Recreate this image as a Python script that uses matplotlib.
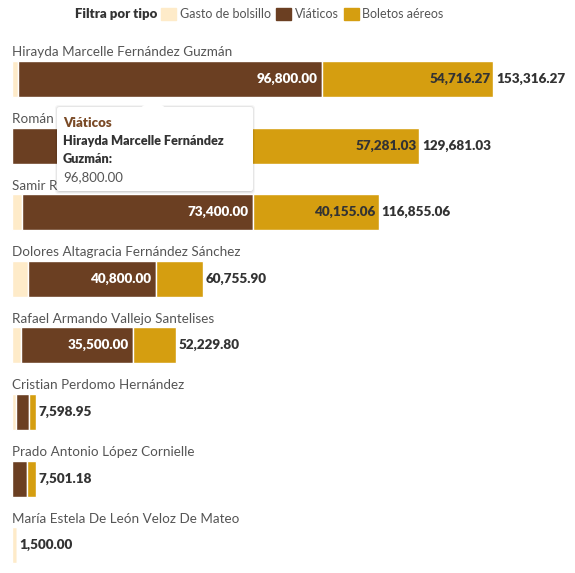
import numpy as np
import matplotlib.pyplot as plt
import matplotlib as mpl
from matplotlib.patches import FancyBboxPatch, Polygon, Patch

CREAM, BROWN, GOLD = '#FEEBC9', '#6B3F22', '#D59E10'
DARK, MID = '#333333', '#555555'

mpl.rcParams['font.family'] = ['Lato', 'DejaVu Sans']

# Data
names = ['Hirayda Marcelle Fernández Guzmán', 'Román A', 'Samir Ra',
         'Dolores Altagracia Fernández Sánchez', 'Rafael Armando Vallejo Santelises',
         'Cristian Perdomo Hernández', 'Prado Antonio López Cornielle',
         'María Estela De León Veloz De Mateo']
gasto = [1800, 0, 3300, 5000, 3000, 1300, 0, 1500]
viaticos = [96800, 72400, 73400, 40800, 35500, 4000, 4800, 0]
boletos = [54716.27, 57281.03, 40155.06, 14955.90, 13729.80, 2298.95, 2701.18, 0]
series = ['Gasto de bolsillo', 'Viáticos', 'Boletos aéreos']

gasto = np.array(gasto)
viaticos = np.array(viaticos)
boletos = np.array(boletos)
total = gasto + viaticos + boletos

W, H = 575, 573
fig = plt.figure(figsize=(W / 100, H / 100), dpi=100)
ax = fig.add_axes([12 / W, 0, 1 - 12 / W, 1])
ax.axis('off')

px_per_k = 3.14
ax.set_xlim(0, (W - 12) / px_per_k * 1000)
row_px, first_px = 66.6, 79
ax.set_ylim((H - first_px) / row_px, -first_px / row_px)

y = np.arange(len(names))
h = 0.54
kw = dict(height=h, edgecolor='white', linewidth=1)
b1 = ax.barh(y, gasto, color=CREAM, **kw)
b2 = ax.barh(y, viaticos, left=gasto, color=BROWN, **kw)
b3 = ax.barh(y, boletos, left=gasto + viaticos, color=GOLD, **kw)

# names above bars
for i, n in enumerate(names):
    ax.text(0, i - 0.40, n, fontsize=9.7, color=MID, va='center', ha='left')

# segment labels
for i in range(len(names)):
    if viaticos[i] > 30000:
        ax.annotate(f'{viaticos[i]:,.2f}', (gasto[i] + viaticos[i], i), xytext=(-3, 0),
                    textcoords='offset points', ha='right', va='center',
                    color='white', fontsize=9.7, fontweight='heavy')
    if boletos[i] > 30000:
        ax.annotate(f'{boletos[i]:,.2f}', (total[i], i), xytext=(-2, 0),
                    textcoords='offset points', ha='right', va='center',
                    color=DARK, fontsize=9.7, fontweight='heavy')
    ax.annotate(f'{total[i]:,.2f}', (total[i], i), xytext=(2, 0),
                textcoords='offset points', ha='left', va='center',
                color=DARK, fontsize=9.7, fontweight='heavy')

# legend
fig.text(75 / W, 1 - 14 / H, 'Filtra por tipo', fontsize=9.5, fontweight='heavy',
         color=DARK, va='center', ha='left')
handles = [Patch(color=c) for c in (CREAM, BROWN, GOLD)]
fig.legend(handles, series, loc='center left', bbox_to_anchor=(155 / W, 1 - 14 / H),
           ncol=3, frameon=False, fontsize=9.0, handlelength=1.2, handleheight=1.2,
           handletextpad=0.3, columnspacing=0.4, labelcolor=MID, borderpad=0)

# tooltip
def fx(p):
    return p / W

def fy(p):
    return 1 - p / H

tx0, ty0, tx1, ty1 = 57, 107, 253, 191
for off, a in ((3, 0.04), (2, 0.06), (1, 0.08)):
    fig.patches.append(FancyBboxPatch((fx(tx0 - off + 1), fy(ty1 + off)), fx(tx1 - tx0 + 2 * off - 2),
                                      (ty1 - ty0 + 2 * off - 1) / H,
                                      boxstyle='round,pad=0,rounding_size=0.006',
                                      transform=fig.transFigure, facecolor='#000000',
                                      alpha=a, edgecolor='none', zorder=5))
box = FancyBboxPatch((fx(tx0), fy(ty1)), fx(tx1 - tx0), (ty1 - ty0) / H,
                     boxstyle='round,pad=0,rounding_size=0.004', transform=fig.transFigure,
                     facecolor='white', edgecolor='none', zorder=6)
tri = Polygon([(fx(141), fy(107.5)), (fx(153), fy(98)), (fx(165), fy(107.5))],
              closed=True, transform=fig.transFigure, facecolor='white',
              edgecolor='none', zorder=7)
fig.patches.extend([box, tri])
fig.text(fx(63), fy(123), 'Viáticos', fontsize=9.5, fontweight='heavy', color='#7A4A26',
         va='center', zorder=8)
fig.text(fx(63), fy(141), 'Hirayda Marcelle Fernández', fontsize=9.1, fontweight='heavy',
         color=DARK, va='center', zorder=8)
fig.text(fx(63), fy(159), 'Guzmán:', fontsize=9.1, fontweight='heavy', color=DARK,
         va='center', zorder=8)
fig.text(fx(63), fy(177), '96,800.00', fontsize=9.5, color=MID, va='center', zorder=8)

fig.savefig('out.png', dpi=100)
